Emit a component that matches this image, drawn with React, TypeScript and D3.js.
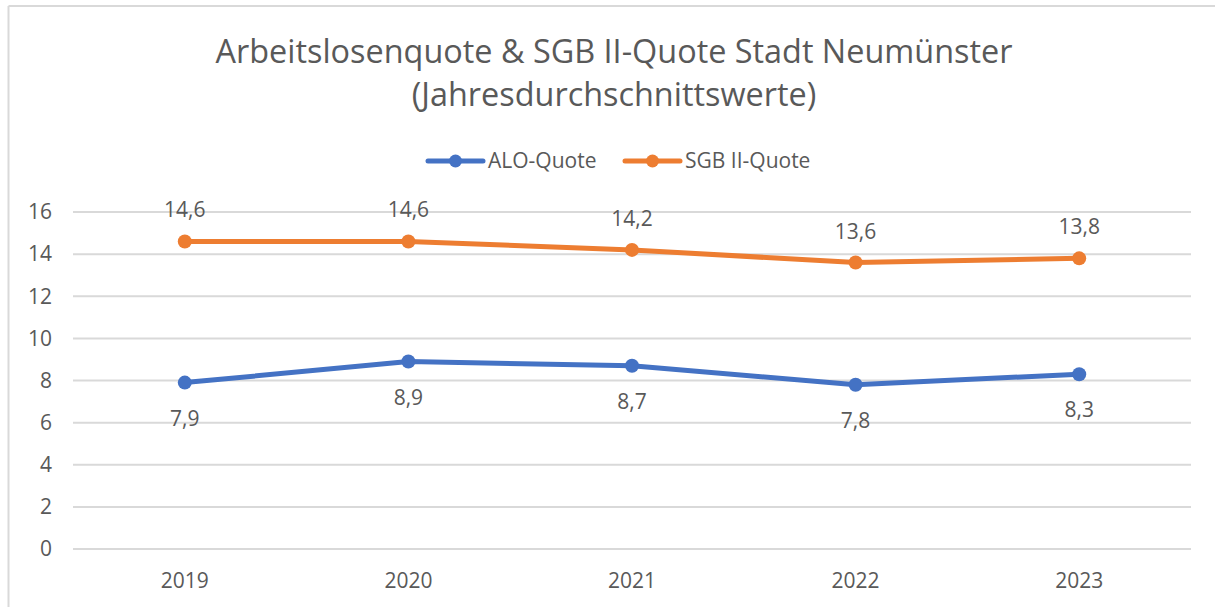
import React from "react";
import * as d3 from "d3";

const years = ["2019", "2020", "2021", "2022", "2023"];
const aloQuote = [7.9, 8.9, 8.7, 7.8, 8.3];
const sgbQuote = [14.6, 14.6, 14.2, 13.6, 13.8];
const yTicks = [0, 2, 4, 6, 8, 10, 12, 14, 16];
const titleLines = ["Arbeitslosenquote & SGB II-Quote Stadt Neumünster", "(Jahresdurchschnittswerte)"];
const seriesNames = ["ALO-Quote", "SGB II-Quote"];

const W = 1215;
const H = 607;
const FONT = "'Open Sans', 'Noto Sans', sans-serif";
const TXT = "#595959";
const GRID = "#d9d9d9";
const BLUE = "#4472C4";
const ORANGE = "#ED7D31";
const FS = 21;

export default function App() {
  const x = d3.scaleBand<string>().domain(years).range([73, 1191]);
  const y = d3.scaleLinear().domain([0, 16]).range([549, 212]);
  const cx = (d: string) => (x(d) as number) + x.bandwidth() / 2;
  const line = d3
    .line<number>()
    .x((_, i) => cx(years[i]))
    .y((v) => y(v));

  const series = [
    { name: seriesNames[0], values: aloQuote, color: BLUE, labelPos: "below" },
    { name: seriesNames[1], values: sgbQuote, color: ORANGE, labelPos: "above" },
  ];

  const fmt = (v: number) => d3.format(".1f")(v).replace(".", ",");

  const legendItems = [
    { name: seriesNames[0], color: BLUE, x0: 428 },
    { name: seriesNames[1], color: ORANGE, x0: 625 },
  ];

  return (
    <svg
      width={W}
      height={H}
      style={{ position: "absolute", left: 0, top: 0, background: "#fff" }}
      fontFamily={FONT}
    >
      <rect x={0} y={0} width={W} height={H} fill="#fff" />
      {/* chart border (left & top visible) */}
      <line x1={8.5} y1={6} x2={8.5} y2={H} stroke={GRID} strokeWidth={2} />
      <line x1={8.5} y1={6} x2={W} y2={6} stroke={GRID} strokeWidth={2} />

      {/* title */}
      <text x={614} y={63} textAnchor="middle" fontSize={32.4} fill={TXT}>
        {titleLines[0]}
      </text>
      <text x={614} y={106} textAnchor="middle" fontSize={32.4} fill={TXT}>
        {titleLines[1]}
      </text>

      {/* legend */}
      {legendItems.map((it) => (
        <g key={it.name}>
          <line x1={it.x0} x2={it.x0 + 55} y1={161} y2={161} stroke={it.color} strokeWidth={5} strokeLinecap="round" />
          <circle cx={it.x0 + 27.5} cy={161} r={6.5} fill={it.color} />
          <text x={it.x0 + 60} y={168} fontSize={FS} fill={TXT}>
            {it.name}
          </text>
        </g>
      ))}

      {/* gridlines */}
      {yTicks.map((t) => (
        <g key={t}>
          <line x1={73} x2={1191} y1={y(t)} y2={y(t)} stroke={GRID} strokeWidth={2} />
          <text x={52} y={y(t)} dy="0.35em" textAnchor="end" fontSize={FS} fill={TXT}>
            {t}
          </text>
        </g>
      ))}

      {/* x labels */}
      {years.map((yr) => (
        <text key={yr} x={cx(yr)} y={588} textAnchor="middle" fontSize={FS} fill={TXT}>
          {yr}
        </text>
      ))}

      {/* series */}
      {series.map((s) => (
        <g key={s.name}>
          <path d={line(s.values) || ""} fill="none" stroke={s.color} strokeWidth={5} strokeLinejoin="round" strokeLinecap="round" />
          {s.values.map((v, i) => (
            <circle key={i} cx={cx(years[i])} cy={y(v)} r={7} fill={s.color} />
          ))}
          {s.values.map((v, i) => (
            <text
              key={"l" + i}
              x={cx(years[i])}
              y={s.labelPos === "above" ? y(v) - 24 : y(v) + 43}
              textAnchor="middle"
              fontSize={FS}
              fill={TXT}
            >
              {fmt(v)}
            </text>
          ))}
        </g>
      ))}
    </svg>
  );
}
